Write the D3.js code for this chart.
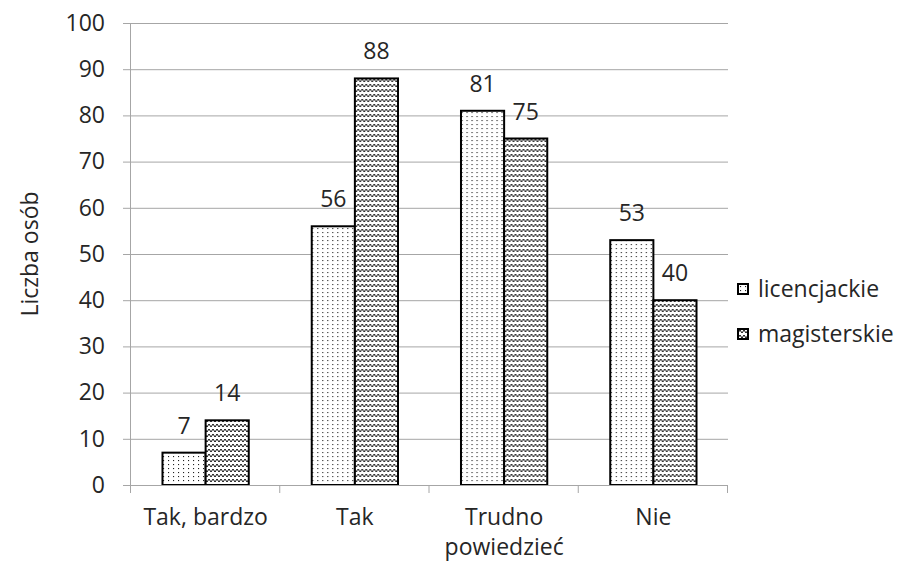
<!DOCTYPE html>
<html>
<head>
<meta charset="utf-8">
<script src="https://cdn.jsdelivr.net/npm/d3@7"></script>
<style>
  html, body { margin: 0; padding: 0; background: #fff; }
  svg { display: block; }
  text { font-family: "Open Sans", Lato, sans-serif; fill: #262626; }
</style>
</head>
<body>
<svg id="chart" width="901" height="562"></svg>
<script>
// Answers (categories) and counts for each study level
const categories = ["Tak, bardzo", "Tak", "Trudno powiedzieć", "Nie"];
const seriesNames = ["licencjackie", "magisterskie"];
const licencjackie = [7, 56, 81, 53];
const magisterskie = [14, 88, 75, 40];
const yTicks = [0, 10, 20, 30, 40, 50, 60, 70, 80, 90, 100];
const yTitle = "Liczba osób";

const FONT = 23;
const svg = d3.select("#chart");
const margin = { left: 131, right: 173, top: 23, bottom: 77 };
const W = 901, H = 562;
const plotW = W - margin.left - margin.right;
const plotH = H - margin.top - margin.bottom;

// Fill patterns: fine dots and horizontal waves
const defs = svg.append("defs");
const dots = defs.append("pattern")
  .attr("id", "dots").attr("patternUnits", "userSpaceOnUse")
  .attr("width", 5).attr("height", 4);
dots.append("rect").attr("width", 5).attr("height", 4).attr("fill", "#fff");
dots.append("rect").attr("x", 2).attr("y", 1).attr("width", 1.1).attr("height", 1.1).attr("fill", "#222");

const waves = defs.append("pattern")
  .attr("id", "waves").attr("patternUnits", "userSpaceOnUse")
  .attr("width", 8).attr("height", 5);
waves.append("rect").attr("width", 8).attr("height", 5).attr("fill", "#fff");
waves.append("path")
  .attr("d", "M0,4 L2,1 L4,4 L6,1 L8,4")
  .attr("fill", "none").attr("stroke", "#111").attr("stroke-width", 1)
  .attr("stroke-linejoin", "round");

const fills = { licencjackie: "url(#dots)", magisterskie: "url(#waves)" };
const values = { licencjackie, magisterskie };

const g = svg.append("g").attr("transform", `translate(${margin.left},${margin.top})`);

const x0 = d3.scaleBand().domain(categories).range([0, plotW]).paddingInner(0).paddingOuter(0);
const x1 = d3.scaleBand().domain(seriesNames).range([0, x0.bandwidth()]).paddingInner(0).paddingOuter(0.73);
const y = d3.scaleLinear().domain([0, 100]).range([plotH, 0]);

// Horizontal grid lines
g.append("g").selectAll("line").data(yTicks.filter(d => d > 0)).join("line")
  .attr("x1", 0).attr("x2", plotW)
  .attr("y1", d => y(d) + 0.5).attr("y2", d => y(d) + 0.5)
  .attr("stroke", "#a6a6a6").attr("stroke-width", 1);

// Y axis
const yAxis = g.append("g").call(d3.axisLeft(y).tickValues(yTicks).tickSize(8).tickPadding(18));
yAxis.select(".domain").attr("stroke", "#a6a6a6").attr("d", `M-0.5,${plotH}V0`);
yAxis.selectAll(".tick line").attr("stroke", "#a6a6a6");
yAxis.selectAll(".tick text").attr("font-size", FONT).attr("fill", "#262626")
  .attr("font-family", "'Open Sans', sans-serif");

// Bars
const groups = g.append("g").selectAll("g").data(categories).join("g")
  .attr("transform", d => `translate(${x0(d)},0)`);
groups.selectAll("rect")
  .data((c, i) => seriesNames.map(s => ({ s, v: values[s][i] })))
  .join("rect")
  .attr("x", d => x1(d.s))
  .attr("y", d => y(d.v))
  .attr("width", x1.bandwidth())
  .attr("height", d => plotH - y(d.v))
  .attr("fill", d => fills[d.s])
  .attr("stroke", "#000").attr("stroke-width", 2);

// Value labels
groups.selectAll("text.val")
  .data((c, i) => seriesNames.map(s => ({ s, v: values[s][i] })))
  .join("text").attr("class", "val")
  .attr("x", d => x1(d.s) + x1.bandwidth() / 2)
  .attr("y", d => y(d.v) - 19)
  .attr("text-anchor", "middle")
  .attr("font-size", FONT)
  .text(d => d.v);

// X axis
const xAxis = g.append("g").attr("transform", `translate(0,${plotH})`);
xAxis.append("line").attr("x1", -8).attr("x2", plotW).attr("y1", 0.5).attr("y2", 0.5)
  .attr("stroke", "#a6a6a6");
xAxis.selectAll("line.tick").data(d3.range(categories.length + 1)).join("line")
  .attr("class", "tick")
  .attr("x1", i => i * x0.bandwidth() - 0.5).attr("x2", i => i * x0.bandwidth() - 0.5)
  .attr("y1", 0).attr("y2", 8).attr("stroke", "#a6a6a6");
const catLabels = { "Trudno powiedzieć": ["Trudno", "powiedzieć"] };
xAxis.selectAll("text").data(categories).join("text")
  .attr("text-anchor", "middle")
  .attr("font-size", FONT)
  .attr("transform", d => `translate(${x0(d) + x0.bandwidth() / 2},0)`)
  .each(function (d) {
    const lines = catLabels[d] || [d];
    d3.select(this).selectAll("tspan").data(lines).join("tspan")
      .attr("x", 0).attr("y", (l, i) => 40 + i * 30).text(l => l);
  });

// Y axis title
svg.append("text")
  .attr("transform", `translate(38,${margin.top + plotH / 2}) rotate(-90)`)
  .attr("text-anchor", "middle")
  .attr("font-size", FONT)
  .text(yTitle);

// Legend
const legend = svg.append("g").attr("transform", "translate(738,289)");
const items = legend.selectAll("g").data(seriesNames).join("g")
  .attr("transform", (d, i) => `translate(0,${i * 45})`);
items.append("rect").attr("x", 0).attr("y", -5).attr("width", 10).attr("height", 10)
  .attr("fill", d => fills[d]).attr("stroke", "#000").attr("stroke-width", 2);
items.append("text").attr("x", 20).attr("y", 0).attr("dy", "0.35em")
  .attr("font-size", FONT).text(d => d);
</script>
</body>
</html>
